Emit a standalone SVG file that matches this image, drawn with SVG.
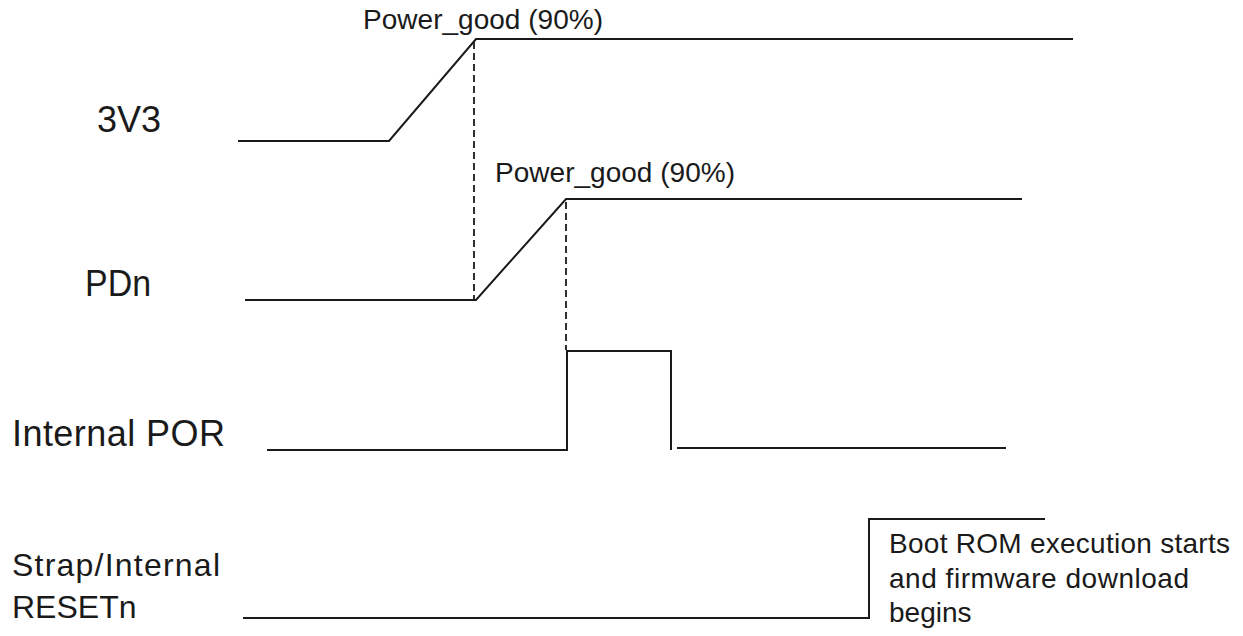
<svg xmlns="http://www.w3.org/2000/svg" width="1243" height="636" viewBox="0 0 1243 636">
<style>
.sig{fill:none;stroke:#1a1a1a;stroke-width:2;stroke-linejoin:miter}
.dash{fill:none;stroke:#1a1a1a;stroke-width:1.8;stroke-dasharray:7 4}
.lbl{font-family:"Liberation Sans",Arial,sans-serif;fill:#1a1a1a}
.big{font-size:36px}
.mid{font-size:32px}
.sm{font-size:28px}
</style>
<rect width="1243" height="636" fill="#ffffff"/>
<g id="sig-3v3">
<text class="lbl big" x="97" y="132">3V3</text>
<polyline class="sig" points="238,141 389,141 476,39 1073,39"/>
<text class="lbl sm" x="363" y="29" textLength="240">Power_good (90%)</text>
</g>
<g id="sig-pdn">
<text class="lbl big" x="85" y="296" textLength="66" lengthAdjust="spacingAndGlyphs">PDn</text>
<polyline class="sig" points="245,300 476,300 566,199 1022,199"/>
<text class="lbl sm" x="495" y="182" textLength="240">Power_good (90%)</text>
</g>
<g id="sig-por">
<text class="lbl big" x="12" y="446" textLength="213">Internal POR</text>
<polyline class="sig" points="267,450 567,450 567,351 671,351 671,450"/>
<line class="sig" x1="677" y1="448" x2="1006" y2="448"/>
</g>
<g id="sig-reset">
<text class="lbl mid" x="12" y="576" textLength="208">Strap/Internal</text>
<text class="lbl mid" x="12" y="618">RESETn</text>
<polyline class="sig" points="243,618 869,618 869,519 1045,519"/>
<text class="lbl sm" x="889" y="553" textLength="341">Boot ROM execution starts</text>
<text class="lbl sm" x="889" y="588" textLength="300">and firmware download</text>
<text class="lbl sm" x="889" y="622">begins</text>
</g>
<g id="connectors">
<line class="dash" x1="474" y1="42" x2="474" y2="299"/>
<line class="dash" x1="566" y1="202" x2="566" y2="350"/>
</g>
</svg>
